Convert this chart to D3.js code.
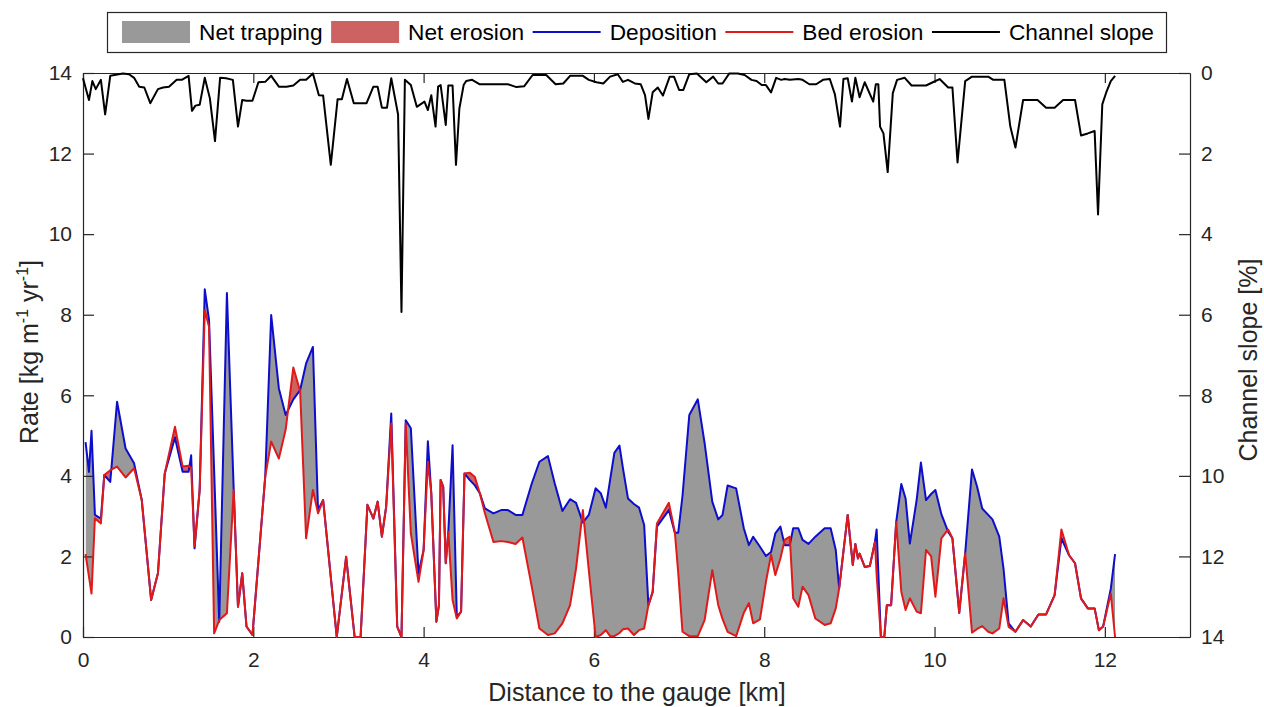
<!DOCTYPE html>
<html lang="en">
<head>
<meta charset="UTF-8">
<title>Deposition, bed erosion and channel slope</title>
<script src="https://d3js.org/d3.v7.min.js"></script>
<style>
  body { margin: 0; background: #fff; font-family: "Liberation Sans", Arial, sans-serif; }
  .axis text { font-size: 21px; fill: #262626; font-family: "Liberation Sans", Arial, sans-serif; }
  .axis path, .axis line { stroke: #262626; stroke-width: 1.2; }
  .label { font-size: 25px; fill: #262626; }
  .legend text { font-size: 22.7px; fill: #000; }
</style>
</head>
<body>
<svg width="1264" height="707"></svg>
<script>
// rate series (km, kg m-1 yr-1)
const distance = [
  0.03, 0.07, 0.10, 0.14, 0.21, 0.25, 0.32, 0.40, 0.50, 0.60, 0.69, 0.80, 0.88, 0.96,
  1.08, 1.17, 1.24, 1.27, 1.31, 1.37, 1.43, 1.48, 1.54, 1.60, 1.69, 1.77, 1.82, 1.87,
  1.92, 1.99, 2.14, 2.21, 2.30, 2.38, 2.47, 2.55, 2.62, 2.70, 2.76, 2.82, 2.98, 3.09,
  3.19, 3.26, 3.34, 3.41, 3.46, 3.51, 3.56, 3.62, 3.69, 3.74, 3.79, 3.85, 3.94, 4.00,
  4.05, 4.09, 4.15, 4.18, 4.20, 4.23, 4.26, 4.29, 4.34, 4.39, 4.44, 4.48, 4.54, 4.60,
  4.66, 4.72, 4.82, 4.91, 4.99, 5.08, 5.16, 5.27, 5.36, 5.46, 5.54, 5.63, 5.72, 5.79,
  5.87, 5.94, 6.02, 6.08, 6.14, 6.19, 6.24, 6.30, 6.34, 6.40, 6.47, 6.53, 6.59, 6.64,
  6.69, 6.74, 6.88, 6.95, 6.99, 7.04, 7.12, 7.22, 7.30, 7.39, 7.46, 7.51, 7.57, 7.67,
  7.76, 7.82, 7.87, 7.95, 8.02, 8.08, 8.13, 8.19, 8.24, 8.30, 8.34, 8.40, 8.45, 8.52,
  8.60, 8.71, 8.78, 8.84, 8.88, 8.98, 9.04, 9.07, 9.10, 9.12, 9.18, 9.24, 9.30, 9.32,
  9.37, 9.41, 9.44, 9.49, 9.55, 9.61, 9.66, 9.71, 9.79, 9.84, 9.90, 9.96, 10.01, 10.08,
  10.16, 10.21, 10.29, 10.36, 10.44, 10.50, 10.56, 10.63, 10.68, 10.76, 10.81, 10.87, 10.95, 11.04,
  11.13, 11.22, 11.31, 11.41, 11.49, 11.58, 11.65, 11.72, 11.80, 11.88, 11.93, 11.98, 12.07, 12.12
];
const deposition = [
  4.84, 4.10, 5.12, 3.03, 2.94, 4.02, 3.85, 5.84, 4.68, 4.31, 3.40, 0.92, 1.58, 4.06,
  4.95, 4.10, 4.10, 4.51, 2.20, 3.65, 8.63, 7.87, 4.13, 0.38, 8.54, 3.65, 0.75, 1.58,
  0.26, 0.05, 3.98, 7.99, 6.17, 5.51, 5.90, 6.13, 6.79, 7.20, 3.15, 3.40, 0.00, 1.99,
  0.00, 0.00, 3.28, 2.94, 3.36, 2.49, 3.23, 5.55, 0.26, 0.00, 5.38, 5.18, 1.58, 2.16,
  4.86, 3.57, 0.38, 0.79, 3.90, 3.73, 1.83, 2.61, 4.76, 0.50, 0.63, 4.06, 3.90, 3.77,
  3.57, 3.19, 3.07, 3.15, 3.15, 3.03, 3.03, 3.81, 4.35, 4.49, 3.81, 3.13, 3.42, 3.33,
  2.84, 3.03, 3.69, 3.57, 3.21, 3.90, 4.57, 4.75, 4.20, 3.44, 3.30, 3.21, 2.78, 0.79,
  1.12, 2.74, 3.15, 2.59, 2.59, 3.50, 5.51, 5.90, 4.81, 3.36, 2.92, 3.03, 3.76, 3.69,
  2.70, 2.28, 2.49, 2.24, 2.01, 2.11, 2.57, 2.74, 2.28, 2.28, 2.70, 2.70, 2.41, 2.31,
  2.49, 2.70, 2.70, 2.16, 1.21, 3.03, 1.79, 2.31, 1.95, 2.07, 1.74, 1.76, 2.36, 2.67,
  0.00, 0.00, 0.79, 0.79, 2.86, 3.80, 3.44, 2.32, 3.40, 4.33, 3.40, 3.55, 3.65, 3.05,
  2.61, 2.45, 0.60, 2.08, 4.16, 3.73, 3.19, 3.03, 2.92, 2.49, 1.70, 0.34, 0.13, 0.42,
  0.26, 0.56, 0.56, 1.04, 2.45, 2.03, 1.83, 0.96, 0.71, 0.71, 0.17, 0.26, 1.20, 2.06
];
const bedErosion = [
  2.06, 1.50, 1.08, 2.95, 2.82, 4.02, 4.14, 4.23, 3.96, 4.19, 3.40, 0.92, 1.58, 4.06,
  5.22, 4.23, 4.25, 4.20, 2.25, 3.65, 8.11, 7.70, 0.09, 0.42, 0.59, 3.65, 0.75, 1.58,
  0.26, 0.05, 3.98, 4.85, 4.43, 5.15, 6.69, 6.10, 2.45, 3.65, 3.07, 3.40, 0.00, 1.99,
  0.00, 0.00, 3.28, 2.94, 3.36, 2.49, 3.23, 5.30, 0.26, 0.00, 5.30, 2.57, 1.37, 2.16,
  4.35, 3.57, 0.38, 0.79, 3.90, 3.73, 1.83, 2.61, 0.92, 0.46, 0.63, 4.06, 4.08, 3.98,
  3.57, 3.07, 2.36, 2.38, 2.36, 2.31, 2.47, 1.25, 0.21, 0.05, 0.09, 0.34, 0.79, 1.70,
  3.15, 1.66, 0.00, 0.05, 0.17, 0.02, 0.02, 0.10, 0.19, 0.21, 0.05, 0.17, 0.21, 0.79,
  1.12, 2.82, 3.33, 2.61, 1.60, 0.13, 0.02, 0.02, 0.42, 1.66, 0.79, 0.45, 0.13, 0.02,
  0.60, 0.84, 0.34, 0.44, 1.37, 2.04, 1.54, 1.95, 2.41, 2.49, 0.96, 0.75, 1.25, 1.04,
  0.46, 0.30, 0.34, 0.71, 1.21, 3.03, 1.79, 2.31, 1.95, 2.07, 1.74, 1.76, 2.36, 1.54,
  0.00, 0.00, 0.79, 0.79, 2.86, 1.12, 0.67, 0.96, 0.63, 0.59, 2.16, 2.00, 1.00, 2.45,
  2.67, 2.45, 0.60, 2.08, 0.11, 0.20, 0.27, 0.13, 0.09, 0.21, 0.96, 0.25, 0.13, 0.42,
  0.26, 0.56, 0.56, 1.04, 2.67, 2.03, 1.83, 0.96, 0.71, 0.71, 0.17, 0.26, 1.08, 0.00
];

// channel slope, right axis (km, %)
const slopeDistance = [
  0.00, 0.07, 0.11, 0.15, 0.21, 0.26, 0.32, 0.47, 0.54, 0.60, 0.66, 0.72, 0.79, 0.88,
  0.94, 1.01, 1.10, 1.16, 1.24, 1.28, 1.32, 1.37, 1.43, 1.49, 1.55, 1.61, 1.68, 1.76,
  1.82, 1.87, 1.92, 1.99, 2.06, 2.14, 2.21, 2.30, 2.39, 2.47, 2.55, 2.62, 2.70, 2.77,
  2.82, 2.91, 2.99, 3.04, 3.10, 3.18, 3.33, 3.41, 3.46, 3.51, 3.57, 3.62, 3.70, 3.74,
  3.78, 3.85, 3.92, 4.01, 4.05, 4.09, 4.14, 4.17, 4.20, 4.26, 4.29, 4.34, 4.38, 4.42,
  4.47, 4.50, 4.57, 4.66, 4.99, 5.09, 5.18, 5.28, 5.44, 5.55, 5.64, 5.72, 5.87, 5.94,
  6.03, 6.11, 6.19, 6.28, 6.34, 6.40, 6.48, 6.55, 6.60, 6.64, 6.69, 6.75, 6.81, 6.89,
  6.94, 7.00, 7.05, 7.12, 7.21, 7.32, 7.40, 7.46, 7.51, 7.59, 7.69, 7.77, 7.85, 7.91,
  7.97, 8.02, 8.08, 8.14, 8.20, 8.24, 8.30, 8.40, 8.45, 8.53, 8.61, 8.69, 8.77, 8.83,
  8.89, 8.93, 8.98, 9.03, 9.07, 9.12, 9.18, 9.28, 9.31, 9.34, 9.36, 9.40, 9.45, 9.51,
  9.56, 9.65, 9.73, 9.90, 9.98, 10.06, 10.16, 10.21, 10.27, 10.36, 10.44, 10.63, 10.69, 10.82,
  10.89, 10.95, 11.04, 11.21, 11.31, 11.41, 11.51, 11.65, 11.72, 11.80, 11.88, 11.92, 11.97, 12.02,
  12.07, 12.12
];
const channelSlope = [
  0.13, 0.67, 0.20, 0.40, 0.17, 1.03, 0.07, 0.01, 0.03, 0.12, 0.34, 0.36, 0.75, 0.40,
  0.36, 0.34, 0.17, 0.17, 0.07, 0.94, 0.81, 0.79, 0.12, 0.63, 1.69, 0.12, 0.13, 0.17,
  1.33, 0.67, 0.69, 0.69, 0.23, 0.22, 0.07, 0.34, 0.34, 0.31, 0.17, 0.17, 0.01, 0.55,
  0.56, 2.28, 0.65, 0.65, 0.15, 0.75, 0.75, 0.34, 0.34, 0.86, 0.86, 0.13, 1.03, 5.93,
  0.17, 0.30, 0.84, 0.71, 0.92, 0.55, 1.33, 0.34, 0.30, 1.29, 0.31, 0.31, 2.28, 0.88,
  0.30, 0.20, 0.17, 0.28, 0.28, 0.35, 0.33, 0.05, 0.05, 0.28, 0.26, 0.07, 0.07, 0.17,
  0.23, 0.26, 0.09, 0.03, 0.22, 0.17, 0.26, 0.28, 0.55, 1.14, 0.48, 0.36, 0.56, 0.09,
  0.09, 0.42, 0.42, 0.03, 0.01, 0.23, 0.09, 0.26, 0.26, 0.01, 0.01, 0.05, 0.17, 0.20,
  0.30, 0.30, 0.48, 0.12, 0.17, 0.15, 0.17, 0.15, 0.17, 0.28, 0.28, 0.17, 0.15, 0.53,
  1.33, 0.15, 0.13, 0.71, 0.12, 0.60, 0.23, 0.71, 0.28, 0.28, 1.33, 1.50, 2.46, 0.50,
  0.17, 0.12, 0.31, 0.31, 0.23, 0.15, 0.36, 0.36, 2.22, 0.20, 0.09, 0.09, 0.17, 0.17,
  1.33, 1.85, 0.67, 0.67, 0.86, 0.86, 0.67, 0.67, 1.55, 1.50, 1.44, 3.51, 0.78, 0.46,
  0.20, 0.07
];

const distanceTicks = [0, 2, 4, 6, 8, 10, 12];
const rateTicks = [0, 2, 4, 6, 8, 10, 12, 14];
const slopeTicks = [0, 2, 4, 6, 8, 10, 12, 14];

const legendItems = [
  { label: "Net trapping", kind: "patch", color: "#999999" },
  { label: "Net erosion", kind: "patch", color: "#cd6262" },
  { label: "Deposition", kind: "line", color: "#0d0dcc" },
  { label: "Bed erosion", kind: "line", color: "#e01a1a" },
  { label: "Channel slope", kind: "line", color: "#000000" }
];

const margin = { top: 73, right: 74, bottom: 70, left: 83 };
const width = 1264 - margin.left - margin.right;
const height = 707 - margin.top - margin.bottom;

const svg = d3.select("svg");
const g = svg.append("g")
  .attr("transform", `translate(${margin.left},${margin.top})`);

const x = d3.scaleLinear().domain([0, 13]).range([0, width]);
const y = d3.scaleLinear().domain([0, 14]).range([height, 0]);
const ySlope = d3.scaleLinear().domain([0, 14]).range([0, height]);

const rows = distance.map((d, i) => ({ km: d, dep: deposition[i], ero: bedErosion[i] }));
const slopeRows = slopeDistance.map((d, i) => ({ km: d, s: channelSlope[i] }));

// clip regions above each line, used to split the band into trapping / erosion
const defs = svg.append("defs");
defs.append("clipPath").attr("id", "above-ero")
  .append("path")
  .attr("d", d3.area().x(d => x(d.km)).y0(d => y(d.ero)).y1(0)(rows));
defs.append("clipPath").attr("id", "above-dep")
  .append("path")
  .attr("d", d3.area().x(d => x(d.km)).y0(d => y(d.dep)).y1(0)(rows));

const band = d3.area()
  .x(d => x(d.km))
  .y0(d => y(d.ero))
  .y1(d => y(d.dep));

g.append("path")
  .attr("d", band(rows))
  .attr("clip-path", "url(#above-ero)")
  .attr("fill", legendItems[0].color);

g.append("path")
  .attr("d", band(rows))
  .attr("clip-path", "url(#above-dep)")
  .attr("fill", legendItems[1].color);

// axes (MATLAB style box, ticks pointing inwards)
g.append("g").attr("class", "axis")
  .attr("transform", `translate(0,${height})`)
  .call(d3.axisBottom(x).tickValues(distanceTicks).tickSizeInner(-10).tickSizeOuter(0).tickPadding(15));

g.append("g").attr("class", "axis")
  .call(d3.axisTop(x).tickValues(distanceTicks).tickSizeInner(-10).tickSizeOuter(0).tickFormat(""));

g.append("g").attr("class", "axis")
  .call(d3.axisLeft(y).tickValues(rateTicks).tickSizeInner(-11).tickSizeOuter(0).tickPadding(11));

g.append("g").attr("class", "axis")
  .attr("transform", `translate(${width},0)`)
  .call(d3.axisRight(ySlope).tickValues(slopeTicks).tickSizeInner(-11).tickSizeOuter(0).tickPadding(11));

const line = d3.line().x(d => x(d[0])).y(d => y(d[1]));

g.append("path")
  .attr("d", line(rows.map(d => [d.km, d.dep])))
  .attr("fill", "none")
  .attr("stroke", legendItems[2].color)
  .attr("stroke-width", 2)
  .attr("stroke-linejoin", "round");

g.append("path")
  .attr("d", line(rows.map(d => [d.km, d.ero])))
  .attr("fill", "none")
  .attr("stroke", legendItems[3].color)
  .attr("stroke-width", 2)
  .attr("stroke-linejoin", "round");

g.append("path")
  .attr("d", d3.line().x(d => x(d.km)).y(d => ySlope(d.s))(slopeRows))
  .attr("fill", "none")
  .attr("stroke", legendItems[4].color)
  .attr("stroke-width", 2)
  .attr("stroke-linejoin", "round");

// axis titles
const yTitle = svg.append("text").attr("class", "label")
  .attr("text-anchor", "middle")
  .attr("transform", "translate(38,352) rotate(-90)");
yTitle.append("tspan").text("Rate [kg m");
yTitle.append("tspan").attr("dy", -10).attr("font-size", 16).text("-1");
yTitle.append("tspan").attr("dy", 10).text(" yr");
yTitle.append("tspan").attr("dy", -10).attr("font-size", 16).text("-1");
yTitle.append("tspan").attr("dy", 10).text("]");

svg.append("text").attr("class", "label")
  .attr("text-anchor", "middle")
  .attr("transform", "translate(1257,360) rotate(-90)")
  .text("Channel slope [%]");

svg.append("text").attr("class", "label")
  .attr("text-anchor", "middle")
  .attr("x", 637).attr("y", 701)
  .text("Distance to the gauge [km]");

// legend
const legend = svg.append("g").attr("class", "legend");
legend.append("rect")
  .attr("x", 107.5).attr("y", 12.5).attr("width", 1059).attr("height", 40)
  .attr("fill", "#fff").attr("stroke", "#262626").attr("stroke-width", 1.2);

let cursor = 122;
legendItems.forEach(item => {
  if (item.kind === "patch") {
    legend.append("rect")
      .attr("x", cursor).attr("y", 21).attr("width", 68).attr("height", 22)
      .attr("fill", item.color);
  } else {
    legend.append("line")
      .attr("x1", cursor).attr("x2", cursor + 68).attr("y1", 32).attr("y2", 32)
      .attr("stroke", item.color).attr("stroke-width", 2);
  }
  const t = legend.append("text")
    .attr("x", cursor + 77).attr("y", 40)
    .text(item.label);
  cursor += 77 + t.node().getComputedTextLength() + 8.5;
});
</script>
</body>
</html>
